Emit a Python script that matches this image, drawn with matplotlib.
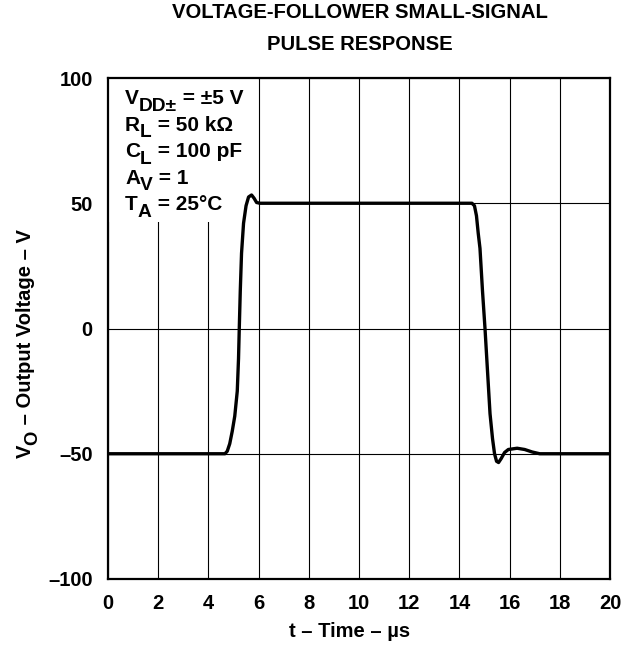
#!/usr/bin/env python
# -*- coding: utf-8 -*-
"""
voltage-follower small-signal pulse response
"""

import matplotlib.pyplot as plt
from matplotlib.patches import Rectangle
from matplotlib.transforms import ScaledTranslation

plt.rcParams['font.family'] = ['Liberation Sans', 'DejaVu Sans']
plt.rcParams['font.weight'] = 'bold'

# data (time in us, output in mV)
time_us = [0, 4.66, 4.75, 4.85, 4.95, 5.05, 5.15, 5.2, 5.23, 5.27, 5.32,
           5.4, 5.5, 5.6, 5.72, 5.82, 5.92, 6.05,
           14.5, 14.6, 14.68, 14.75, 14.82, 14.92, 15.02, 15.12, 15.22,
           15.32, 15.4, 15.48, 15.56, 15.66, 15.8, 15.95, 16.3, 16.6,
           16.9, 17.2, 20]
vout = [-50, -50, -49, -46, -41, -35, -25, -12, 0, 15, 30,
        42, 49, 52.5, 53.3, 52, 50.3, 50,
        50, 49, 45, 38, 32, 15, 0, -17, -34,
        -44, -50, -53, -53.5, -52, -49.5, -48.3, -47.8, -48.3,
        -49.3, -50, -50]

xticks = list(range(0, 21, 2))
yticks = [-100, -50, 0, 50, 100]
ytick_labels = ['\u2013100', '\u201350', '0', '50', '100']

# (text, is_subscript) pieces
conditions = [
    [('V', False), ('DD\u00b1', True), (' = \u00b15 V', False)],
    [('R', False), ('L', True), (' = 50 k\u03a9', False)],
    [('C', False), ('L', True), (' = 100 pF', False)],
    [('A', False), ('V', True), (' = 1', False)],
    [('T', False), ('A', True), (' = 25\u00b0C', False)],
]
ylabel_parts = [('V', False), ('O', True),
                (' \u2013 Output Voltage \u2013 V', False)]

W, H = 622, 646
fig = plt.figure(figsize=(W / 100, H / 100), dpi=100)
ax = fig.add_axes([108 / W, 1 - 579 / H, 502 / W, 501 / H])
renderer = fig.canvas.get_renderer()


def rich_text(x, y, parts, size, rotation=0, zorder=4):
    """ draw text pieces with lowered subscripts, x/y in figure pixels """
    adv = 0.0
    for txt, sub in parts:
        fs = size * 0.92 if sub else size
        drop = size * 0.32 if sub else 0.0
        if rotation == 90:
            off = ScaledTranslation(drop / 72, adv / 72, fig.dpi_scale_trans)
        else:
            off = ScaledTranslation(adv / 72, -drop / 72, fig.dpi_scale_trans)
        t = fig.text(x / W, 1 - y / H, txt, fontsize=fs, fontweight='bold',
                     ha='left', va='baseline', rotation=rotation,
                     rotation_mode='anchor', zorder=zorder,
                     transform=fig.transFigure + off)
        ext = t.get_window_extent(renderer)
        step = ext.height if rotation == 90 else ext.width
        adv += step * 72 / fig.dpi


ax.plot(time_us, vout, color='black', lw=2.4, zorder=3,
        solid_joinstyle='round')

ax.set_xlim(0, 20)
ax.set_ylim(-100, 100)
ax.set_xticks(xticks)
ax.set_xticklabels([str(t) for t in xticks])
ax.set_yticks(yticks)
ax.set_yticklabels(ytick_labels)
ax.tick_params(length=0, labelsize=14.5, pad=11)
ax.grid(True, color='black', lw=0.8)
for s in ax.spines.values():
    s.set_linewidth(1.6)

# white box behind the conditions text
ax.add_patch(Rectangle((0, 0.713), 0.299, 0.3, transform=ax.transAxes,
                       facecolor='white', edgecolor='none', zorder=2))
for i, line in enumerate(conditions):
    rich_text(125, 104 + i * 26.6, line, 15)

rich_text(31, 458, ylabel_parts, 14.5, rotation=90)
fig.text(350 / W, 1 - 637 / H, 't \u2013 Time \u2013 \u00b5s', ha='center',
         va='baseline', fontsize=14.5, fontweight='bold')

fig.text(360 / W, 1 - 18 / H, 'VOLTAGE-FOLLOWER SMALL-SIGNAL',
         ha='center', va='baseline', fontsize=14.6, fontweight='bold')
fig.text(360 / W, 1 - 50 / H, 'PULSE RESPONSE',
         ha='center', va='baseline', fontsize=14.6, fontweight='bold')

fig.savefig('out.png', dpi=100)
